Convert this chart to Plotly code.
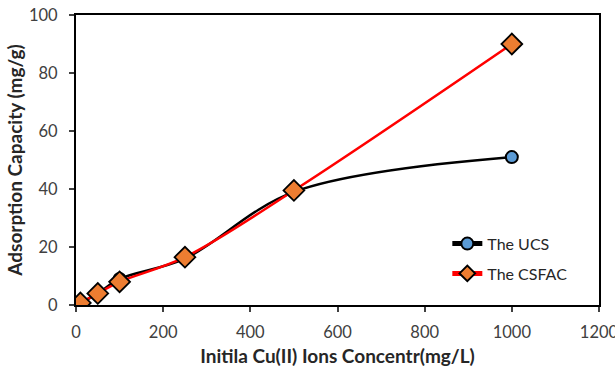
import plotly.graph_objects as go

ucs_x = [5, 50, 100, 250, 500, 1000]
ucs_y = [0.2, 4.0, 9.0, 16.0, 39.0, 51.0]
csfac_x = [10, 50, 100, 250, 500, 1000]
csfac_y = [0.7, 4.0, 8.0, 16.5, 39.5, 90.0]

x_ticks = [0, 200, 400, 600, 800, 1000, 1200]
y_ticks = [0, 20, 40, 60, 80, 100]

FONT = "Lato"

fig = go.Figure()
fig.add_trace(go.Scatter(
    x=ucs_x, y=ucs_y, name="The UCS", mode="lines+markers", legendgroup="a",
    line=dict(color="black", width=2.5, shape="spline", smoothing=1.0),
    marker=dict(symbol="circle", size=12, color="#5B9BD5",
                line=dict(color="black", width=2)),
))
fig.add_trace(go.Scatter(
    x=csfac_x, y=csfac_y, name="The CSFAC", mode="lines+markers", legendgroup="b",
    line=dict(color="#FF0000", width=2.5, shape="spline", smoothing=1.0),
    marker=dict(symbol="diamond", size=16, color="#ED7D31",
                line=dict(color="black", width=1.8)),
))

axis_common = dict(
    showline=True, linecolor="black", linewidth=2, mirror=True,
    ticks="outside", ticklen=5, tickwidth=1.5, tickcolor="#404040",
    showgrid=False, zeroline=False, automargin=False,
    ticklabeloverflow="allow",
    tickfont=dict(family=FONT, size=16.5, color="#404040"),
)

fig.update_xaxes(
    range=[0, 1200], tickvals=x_ticks, ticktext=[str(v) for v in x_ticks],
    ticklabelstandoff=6,
    title=dict(text="<b>Initila Cu(II) Ions Concentr(mg/L)</b>",
               font=dict(family=FONT, size=19, color="#262626"), standoff=9),
    **axis_common,
)
fig.update_yaxes(
    range=[0, 100], tickvals=y_ticks, ticktext=[str(v) for v in y_ticks],
    ticklabelstandoff=8,
    title=dict(text="<b>Adsorption Capacity (mg/g)</b>",
               font=dict(family=FONT, size=19, color="#262626"), standoff=1),
    **axis_common,
)

fig.update_layout(
    width=615, height=369,
    margin=dict(l=76, r=16, t=15, b=64),
    paper_bgcolor="white", plot_bgcolor="white",
    showlegend=True,
    legend=dict(
        x=0.71, y=0.27, xanchor="left", yanchor="top",
        bgcolor="rgba(0,0,0,0)",
        font=dict(family=FONT, size=16, color="#262626"),
        itemsizing="constant", tracegroupgap=6,
    ),
    font=dict(family=FONT),
)

fig.write_html("out.html")
